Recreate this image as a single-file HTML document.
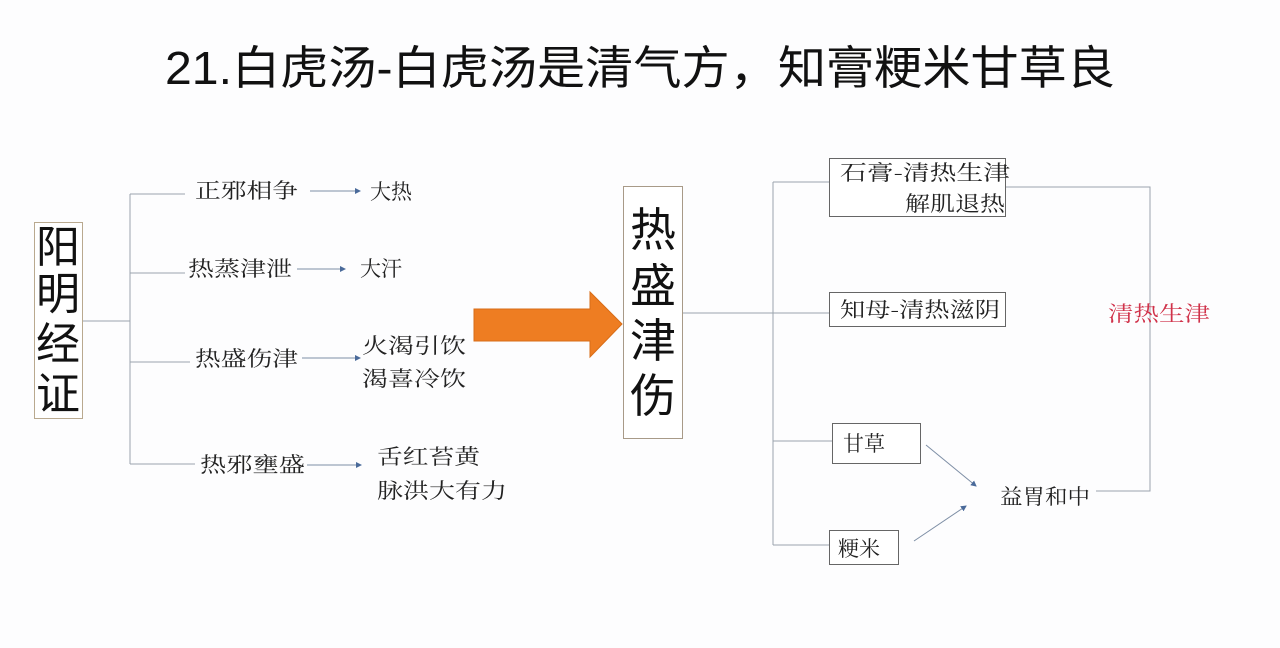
<!DOCTYPE html>
<html><head><meta charset="utf-8"><style>
html,body{margin:0;padding:0;background:#fdfdfe;}
svg{display:block}
text{font-family:"Liberation Sans","Noto Sans CJK SC",sans-serif;}
.s{font-family:"Noto Serif CJK SC","Liberation Serif",serif;fill:#222;font-size:21px;}
</style></head><body>
<svg width="1280" height="648" viewBox="0 0 1280 648" xmlns="http://www.w3.org/2000/svg">
<defs><marker id="a" markerWidth="6" markerHeight="6" refX="5" refY="3" orient="auto"><path d="M0,0 L6,3 L0,6z" fill="#4a6a9a"/></marker></defs>
<rect width="1280" height="648" fill="#fdfdfe"/>
<text x="165" y="84" font-size="46" textLength="950" lengthAdjust="spacingAndGlyphs" fill="#111">21.白虎汤-白虎汤是清气方，知膏粳米甘草良</text>

<g stroke="#9aa3ad" stroke-width="1" fill="none">
<path d="M82,321 H130 M130,194 V464 M130,194 H185 M130,273 H185 M130,362 H190 M130,464 H195"/>
<path d="M682,313 H773 M773,182 V545 M773,182 H829 M773,313 H829 M773,441 H832 M773,545 H829"/>
<path d="M1005,187 H1150 V491 H1096"/>
</g>
<g stroke="#7d8ea5" stroke-width="1" fill="none" marker-end="url(#a)">
<path d="M310,191 H360"/><path d="M297,269 H345"/><path d="M302,358 H360"/><path d="M307,465 H361"/>
<path d="M926,445 L976,486"/><path d="M914,541 L966,506"/>
</g>

<rect x="34.5" y="222.5" width="48" height="196" fill="#fff" stroke="#b9a98f"/>
<text x="58" y="262" font-size="44" text-anchor="middle" fill="#111">阳</text>
<text x="58" y="309" font-size="44" text-anchor="middle" fill="#111">明</text>
<text x="58" y="359" font-size="44" text-anchor="middle" fill="#111">经</text>
<text x="58" y="409" font-size="44" text-anchor="middle" fill="#111">证</text>

<text class="s" x="195" y="198" textLength="103" lengthAdjust="spacingAndGlyphs">正邪相争</text>
<text class="s" x="370" y="199" font-size="24">大热</text>
<text class="s" x="188" y="276" textLength="104" lengthAdjust="spacingAndGlyphs">热蒸津泄</text>
<text class="s" x="360" y="276" font-size="24">大汗</text>
<text class="s" x="195" y="366" textLength="103" lengthAdjust="spacingAndGlyphs">热盛伤津</text>
<text class="s" x="362" y="353" textLength="104" lengthAdjust="spacingAndGlyphs">火渴引饮</text>
<text class="s" x="362" y="386" textLength="104" lengthAdjust="spacingAndGlyphs">渴喜冷饮</text>
<text class="s" x="200" y="472" textLength="105" lengthAdjust="spacingAndGlyphs">热邪壅盛</text>
<text class="s" x="377" y="464" textLength="103" lengthAdjust="spacingAndGlyphs">舌红苔黄</text>
<text class="s" x="377" y="498" textLength="130" lengthAdjust="spacingAndGlyphs">脉洪大有力</text>

<path d="M474,309 H590 V292 L622,324 L590,357 V341 H474 Z" fill="#ee7d22" stroke="#d86d18"/>

<rect x="623.5" y="186.5" width="59" height="252" fill="#fff" stroke="#a89a88"/>
<text x="653" y="246" font-size="46" text-anchor="middle" fill="#111">热</text>
<text x="653" y="302" font-size="46" text-anchor="middle" fill="#111">盛</text>
<text x="653" y="357" font-size="46" text-anchor="middle" fill="#111">津</text>
<text x="653" y="412" font-size="46" text-anchor="middle" fill="#111">伤</text>

<g fill="#fff" stroke="#666" stroke-width="1">
<rect x="829.5" y="158.5" width="176" height="58"/>
<rect x="829.5" y="292.5" width="176" height="34"/>
<rect x="832.5" y="423.5" width="88" height="40"/>
<rect x="829.5" y="530.5" width="69" height="34"/>
</g>
<text class="s" x="840" y="180" font-size="22" textLength="170" lengthAdjust="spacingAndGlyphs">石膏-清热生津</text>
<text class="s" x="905" y="211" font-size="22" textLength="100" lengthAdjust="spacingAndGlyphs">解肌退热</text>
<text class="s" x="840" y="317" font-size="22" textLength="160" lengthAdjust="spacingAndGlyphs">知母-清热滋阴</text>
<text class="s" x="843" y="451" font-size="24">甘草</text>
<text class="s" x="838" y="556" font-size="23">粳米</text>
<text class="s" x="1000" y="504" font-size="20" textLength="90" lengthAdjust="spacingAndGlyphs">益胃和中</text>
<text class="s" x="1108" y="321" font-size="22" style="fill:#d0324a" textLength="102" lengthAdjust="spacingAndGlyphs">清热生津</text>
</svg>
</body></html>
